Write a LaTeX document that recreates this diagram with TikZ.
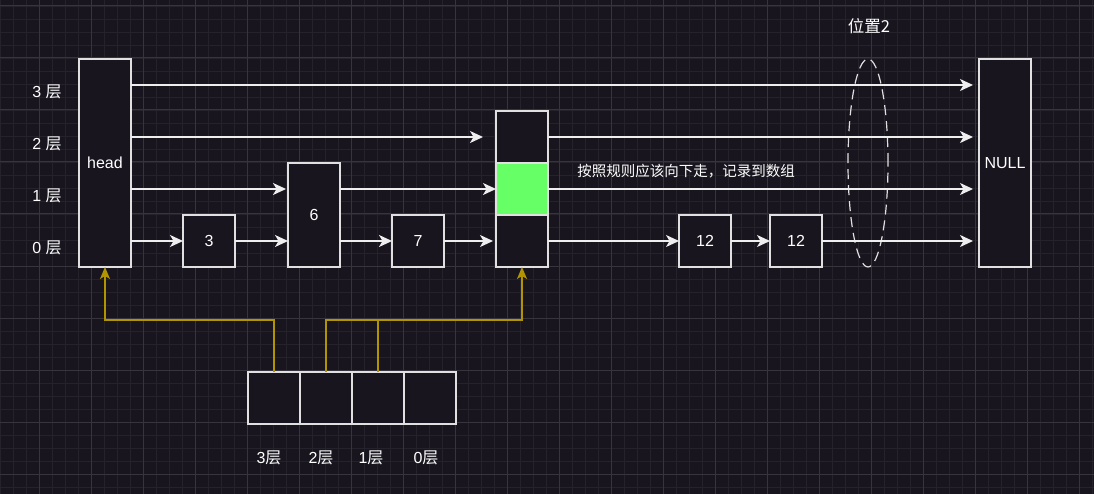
\documentclass[tikz,border=0pt]{standalone}
\usepackage{fontspec}
\setmainfont{Liberation Sans}
\newfontfamily\cjk{Noto Sans CJK SC}
\usetikzlibrary{arrows.meta,positioning,shapes.geometric}
\definecolor{bgdark}{HTML}{18151E}
\definecolor{gridminor}{HTML}{25222B}
\definecolor{gridmajor}{HTML}{37343D}
\definecolor{edge}{HTML}{E0E0E0}
\definecolor{wire}{HTML}{EEEEEE}
\definecolor{ochre}{HTML}{B09500}
\definecolor{hit}{HTML}{66FF66}
\tikzset{
  cell/.style={rectangle,draw=edge,line width=1.4pt,fill=bgdark,inner sep=0pt,outer sep=0pt,minimum width=52pt,minimum height=52pt,text=white,font=\fontsize{16}{19}\selectfont},
  tallcell/.style={cell,minimum height=208pt},
  lvl/.style={text=white,font=\fontsize{16}{19}\selectfont},
  note/.style={text=white,font=\cjk\fontsize{14.5}{17}\selectfont},
  link/.style={-{Stealth[length=13pt,width=12pt,inset=3.5pt]},line width=1.4pt,wire},
  tonull/.style={link,shorten >=6pt},
  ptr/.style={-{Stealth[length=12pt,width=10pt,inset=3pt]},line width=1.4pt,ochre}
}

\begin{document}
\begin{tikzpicture}[x=1pt,y=-1pt]
    \useasboundingbox (0,0) rectangle (1094,494);
    \fill[bgdark] (0,0) rectangle (1094,494);
    % grid
    \foreach \gx in {0,...,84} \draw[gridminor,line width=0.8pt] ({0.5+13*\gx},0) -- ({0.5+13*\gx},494);
    \foreach \gy in {0,...,37} \draw[gridminor,line width=0.8pt] (0,{6+13*\gy}) -- (1094,{6+13*\gy});
    \foreach \gx in {0,...,20} \draw[gridmajor,line width=1pt] ({39.5+52*\gx},0) -- ({39.5+52*\gx},494);
    \foreach \gy in {0,...,9} \draw[gridmajor,line width=1pt] (0,{6+52*\gy}) -- (1094,{6+52*\gy});

    % levels
    \coordinate (L3) at (0,85);
    \coordinate (L2) at (0,137);
    \coordinate (L1) at (0,189);
    \coordinate (L0) at (0,241);
    \coordinate (J) at (0,320);

    \node[lvl] (lab3) at (47,92) {3 {\cjk 层}};
    \node[lvl] (lab2) at (47,144) {2 {\cjk 层}};
    \node[lvl] (lab1) at (47,196) {1 {\cjk 层}};
    \node[lvl] (lab0) at (47,248) {0 {\cjk 层}};

    % list nodes
    \node[tallcell] (head) at (105,163) {head};
    \node[cell] (n3) at (209,241) {3};
    \node[cell,minimum height=104pt] (n6) at (314,215) {6};
    \node[cell] (n7) at (418,241) {7};
    \node[cell] (c2) at (522,137) {};
    \node[cell,fill=hit] (c1) at (522,189) {};
    \node[cell] (c0) at (522,241) {};
    \node[cell] (n12a) at (705,241) {12};
    \node[cell] (n12b) at (796,241) {12};
    \node[tallcell] (null) at (1005,163) {NULL};

    \node[ellipse,draw=edge,line width=1.2pt,dash pattern=on 10pt off 6pt,inner sep=0pt,minimum width=40pt,minimum height=208pt] (pos2) at (868,163) {};
    \node[note,font=\cjk\fontsize{16.5}{19}\selectfont] (pos2lab) at (869,26) {位置2};
    \node[note] (rule) at (686,171) {按照规则应该向下走，记录到数组};

    % forward links
    \draw[tonull] (head.east |- L3) -- (null.west |- L3);
    \draw[link,shorten >=13pt] (head.east |- L2) -- (c2.west);
    \draw[tonull] (c2.east) -- (null.west |- L2);
    \draw[link,shorten >=2pt] (head.east |- L1) -- (n6.west |- L1);
    \draw[link] (n6.east |- L1) -- (c1.west);
    \draw[tonull] (c1.east) -- (null.west |- L1);
    \draw[link] (head.east |- L0) -- (n3.west);
    \draw[link] (n3.east) -- (n6.west |- L0);
    \draw[link] (n6.east |- L0) -- (n7.west);
    \draw[link,shorten >=3pt] (n7.east) -- (c0.west);
    \draw[link] (c0.east) -- (n12a.west);
    \draw[link] (n12a.east) -- (n12b.west);
    \draw[tonull] (n12b.east) -- (null.west |- L0);

    % update array
    \node[cell] (a3) at (274,398) {};
    \node[cell] (a2) at (326,398) {};
    \node[cell] (a1) at (378,398) {};
    \node[cell] (a0) at (430,398) {};
    \node[lvl] (a3lab) at (269,458) {3{\cjk 层}};
    \node[lvl] (a2lab) at (321,458) {2{\cjk 层}};
    \node[lvl] (a1lab) at (371,458) {1{\cjk 层}};
    \node[lvl] (a0lab) at (426,458) {0{\cjk 层}};

    \draw[ptr] (a3.north) -- (a3.north |- J) -| (head.south);
    \draw[ptr] (a2.north) -- (a2.north |- J) -| (c0.south);
    \draw[ochre,line width=1.4pt] (a1.north) -- (a1.north |- J);
  \end{tikzpicture}
\end{document}
